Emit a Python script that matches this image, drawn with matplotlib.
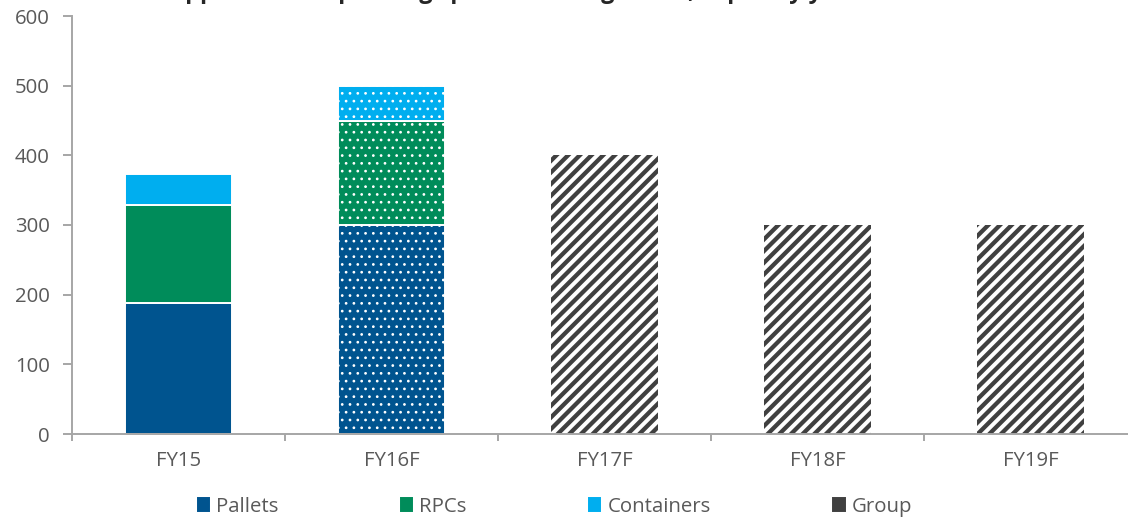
import matplotlib.pyplot as plt
import numpy as np
from matplotlib.patches import Patch

# data
years = ['FY15', 'FY16F', 'FY17F', 'FY18F', 'FY19F']
pallets = [188, 300, 0, 0, 0]
rpcs = [141, 150, 0, 0, 0]
containers = [44, 50, 0, 0, 0]
group = [0, 0, 400, 300, 300]

c_pal = '#00548F'
c_rpc = '#008C5A'
c_con = '#00AEEF'
c_grp = '#404040'
grey = '#595959'

plt.rcParams['font.family'] = ['Open Sans', 'DejaVu Sans']

DPI = 140
fig = plt.figure(figsize=(1128 / DPI, 517 / DPI), dpi=DPI)
ax = fig.add_axes([72 / 1128, 83 / 517, 1065 / 1128, 418 / 517])

x = np.arange(len(years))
w = 0.5
pal = np.array(pallets)
rpc = np.array(rpcs)
con = np.array(containers)
grp = np.array(group)

# FY15 solid, FY16F dotted
for i in range(2):
    hatch = None if i == 0 else '...'
    bars = []
    bars += ax.bar(x[i], pal[i], w, color=c_pal, edgecolor='white', linewidth=1.0, hatch=hatch)
    bars += ax.bar(x[i], rpc[i], w, bottom=pal[i], color=c_rpc, edgecolor='white', linewidth=1.0, hatch=hatch)
    bars += ax.bar(x[i], con[i], w, bottom=pal[i] + rpc[i], color=c_con, edgecolor='white', linewidth=1.0, hatch=hatch)
    for b in bars:
        if hasattr(b, 'set_hatch_linewidth'):
            b.set_hatch_linewidth(0.6)

gbars = ax.bar(x[2:], grp[2:], w, facecolor='white', edgecolor=c_grp, linewidth=0, hatch='////')
for b in gbars:
    if hasattr(b, 'set_hatch_linewidth'):
        b.set_hatch_linewidth(2.2)

ax.set_xlim(-0.5, 4.5)
ax.set_ylim(0, 600)
ax.set_yticks(range(0, 601, 100))
ax.set_xticks(x)
ax.set_xticklabels(years)
ax.set_xticks(np.arange(-0.5, 5, 1), minor=True)

for s in ['top', 'right']:
    ax.spines[s].set_visible(False)
for s in ['left', 'bottom']:
    ax.spines[s].set_color('#A6A6A6')
    ax.spines[s].set_linewidth(1.0)

ax.tick_params(axis='y', length=4.5, width=1.0, color='#A6A6A6', labelcolor=grey, labelsize=10.5, pad=7)
ax.tick_params(axis='x', which='major', length=0, labelcolor=grey, labelsize=10.5, pad=9)
ax.tick_params(axis='x', which='minor', length=3.5, width=1.0, color='#A6A6A6')

# title is cut off at the top edge in the reference, only descenders show
fig.text(0.15, 1.004, 'Approximate spending split across segments, capex by year',
         fontsize=12, fontweight='bold', color='#262626', va='baseline', ha='left')

handles = [Patch(color=c_pal, label='Pallets'), Patch(color=c_rpc, label='RPCs'),
           Patch(color=c_con, label='Containers'), Patch(color=c_grp, label='Group')]
fig.legend(handles=handles, loc='center', bbox_to_anchor=(0.492, 0.02), ncol=4, frameon=False,
           fontsize=10.5, labelcolor=grey, handlelength=0.55, handleheight=0.55, handletextpad=0.35,
           columnspacing=6.0, borderaxespad=0)

fig.savefig('out.png', dpi=DPI)
